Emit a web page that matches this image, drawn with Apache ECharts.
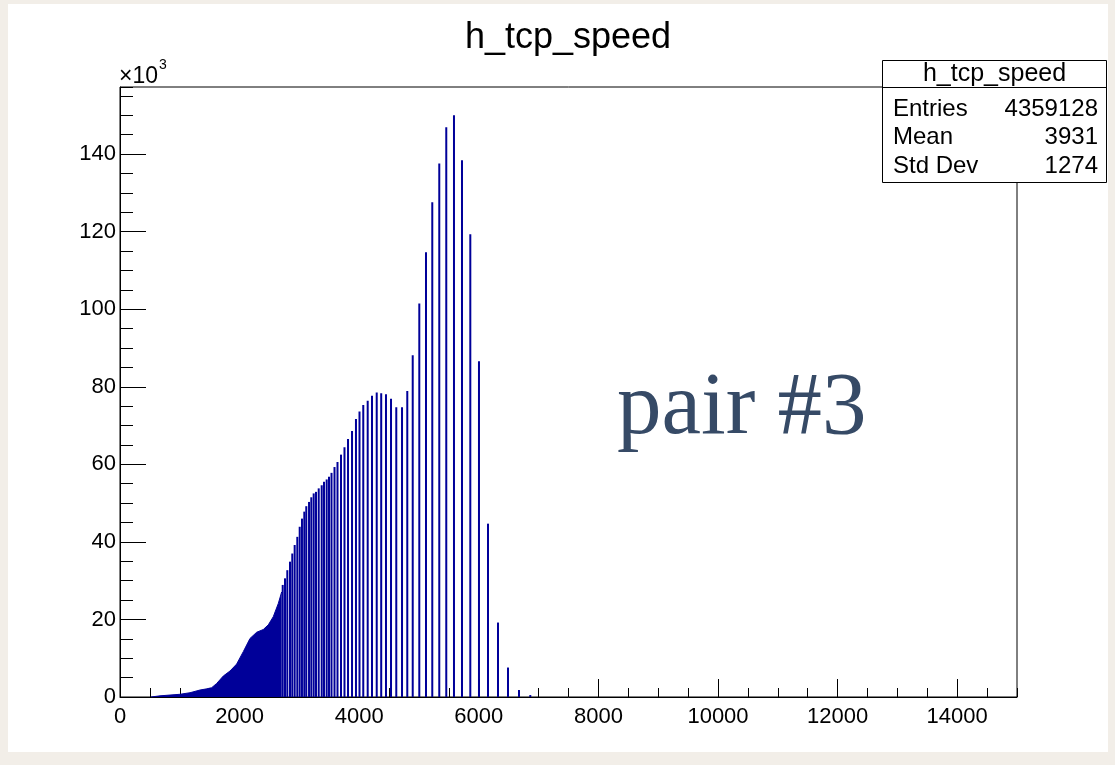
<!DOCTYPE html>
<html>
<head>
<meta charset="utf-8">
<title>h_tcp_speed</title>
<script src="https://cdn.jsdelivr.net/npm/echarts@6/dist/echarts.min.js"></script>
<style>
  html, body { margin: 0; padding: 0; background: #f2eee8; }
  #paper { position: absolute; left: 8px; top: 4px; width: 1100px; height: 748px; background: #fff; }
  #main { position: absolute; left: 0; top: 0; width: 1115px; height: 765px; }
</style>
</head>
<body>
<div id="paper"></div>
<div id="main"></div>
<script>
// dense part of the histogram (bins too close to separate), envelope
let denseX = [520, 535, 669, 836, 1003, 1171, 1338, 1450, 1533, 1617, 1727, 1839, 1951, 2062, 2174, 2286, 2396, 2480, 2563, 2647, 2704]
let denseY = [0, 0.2, 0.3, 0.5, 0.7, 1.1, 1.8, 2.1, 2.4, 3.5, 5.4, 6.7, 8.5, 11.7, 15.1, 16.7, 17.4, 18.6, 20.7, 24.1, 27.1]

// separated spikes, in units of 10^3 entries
let spikeX = [2721, 2759, 2798, 2843, 2881, 2921, 2965, 3005, 3043, 3082,
  3115, 3161, 3199, 3239, 3278, 3323, 3373, 3411, 3456, 3495,
  3537, 3587, 3637, 3696, 3754, 3813, 3880, 3946, 4005, 4068,
  4142, 4214, 4293, 4368, 4448, 4532, 4620, 4716, 4804, 4895,
  5005, 5117, 5222, 5339, 5456, 5585, 5719, 5858, 6003, 6154,
  6321, 6488, 6672, 6861]
let spikeY = [28.9, 30.6, 32.7, 34.9, 37.0, 39.2, 41.3, 43.9, 46.0, 47.8,
  49.2, 50.3, 51.5, 52.5, 52.9, 53.8, 54.6, 55.5, 56.1, 56.8,
  57.8, 59.3, 60.6, 62.5, 64.4, 66.5, 68.6, 71.7, 73.6, 75.3,
  76.4, 77.7, 78.5, 78.3, 78.1, 76.9, 74.7, 74.7, 78.9, 88.1,
  101.5, 114.7, 127.6, 137.6, 146.9, 150.0, 138.4, 119.3, 86.6, 44.7,
  19.2, 7.6, 1.8, 0.5]

let statNames = ['Entries', 'Mean', 'Std Dev']
let statValues = ['4359128', '3931', '1274']

let font = 'Liberation Sans, Arial, Helvetica, sans-serif'
let histColor = '#000099'

let denseData = denseX.map((x, i) => [x, denseY[i]])
let spikeData = spikeX.map((x, i) => [x, spikeY[i]])

// stats box
let boxLeft = 882.5, boxTop = 60.5, boxW = 224, boxH = 122
let statsGraphic = [
  {
    type: 'rect', z: 100,
    shape: { x: boxLeft, y: boxTop, width: boxW, height: boxH },
    style: { fill: '#fff', stroke: '#000', lineWidth: 1 }
  },
  {
    type: 'line', z: 101,
    shape: { x1: boxLeft, y1: 87.5, x2: boxLeft + boxW, y2: 87.5 },
    style: { stroke: '#000', lineWidth: 1 }
  },
  {
    type: 'text', z: 101, x: boxLeft + boxW / 2, y: 74,
    style: { text: 'h_tcp_speed', font: '25px ' + font, fill: '#000', textAlign: 'center', textVerticalAlign: 'middle' }
  }
]
statNames.forEach((name, i) => {
  let y = 109 + i * 28.5
  statsGraphic.push({
    type: 'text', z: 101, x: 893, y: y,
    style: { text: name, font: '24px ' + font, fill: '#000', textAlign: 'left', textVerticalAlign: 'middle' }
  })
  statsGraphic.push({
    type: 'text', z: 101, x: 1098, y: y,
    style: { text: statValues[i], font: '24px ' + font, fill: '#000', textAlign: 'right', textVerticalAlign: 'middle' }
  })
})

let axisBlack = { color: '#000', width: 1 }
let plainNumber = (v) => String(Math.round(v))

let option = {
  animation: false,
  backgroundColor: 'transparent',
  grid: {
    left: 120, top: 87, right: 98, bottom: 68,
    show: true, borderColor: '#000', borderWidth: 1, backgroundColor: '#fff'
  },
  xAxis: [
    {
      type: 'value', min: 0, max: 15000, interval: 2000, position: 'bottom',
      axisLine: { show: true, lineStyle: axisBlack },
      axisTick: { show: true, inside: true, length: 18, lineStyle: axisBlack },
      axisLabel: { color: '#000', fontFamily: font, fontSize: 22, margin: 9, showMaxLabel: false, formatter: plainNumber },
      splitLine: { show: false }
    },
    {
      // minor ticks every 500
      type: 'value', min: 0, max: 15000, interval: 500, position: 'bottom',
      axisLine: { show: false },
      axisTick: { show: true, inside: true, length: 9, lineStyle: axisBlack },
      axisLabel: { show: false },
      splitLine: { show: false }
    }
  ],
  yAxis: [
    {
      type: 'value', min: 0, max: 157.3, interval: 20, position: 'left',
      axisLine: { show: true, lineStyle: axisBlack },
      axisTick: { show: true, inside: true, length: 26, lineStyle: axisBlack },
      axisLabel: { color: '#000', fontFamily: font, fontSize: 22, margin: 4, showMaxLabel: false, formatter: plainNumber },
      splitLine: { show: false }
    },
    {
      // minor ticks every 5
      type: 'value', min: 0, max: 157.3, interval: 5, position: 'left',
      axisLine: { show: false },
      axisTick: { show: true, inside: true, length: 13, lineStyle: axisBlack },
      axisLabel: { show: false },
      splitLine: { show: false }
    }
  ],
  graphic: [
    {
      type: 'text', x: 568, y: 20,
      style: { text: 'h_tcp_speed', font: '36px ' + font, fill: '#000', textAlign: 'center', textVerticalAlign: 'top' }
    },
    {
      type: 'text', x: 119, y: 65,
      style: { text: '\u00d710', font: '23px ' + font, fill: '#000', textAlign: 'left', textVerticalAlign: 'top' }
    },
    {
      type: 'text', x: 159, y: 58,
      style: { text: '3', font: '14px ' + font, fill: '#000', textAlign: 'left', textVerticalAlign: 'top' }
    },
    {
      type: 'text', x: 617, y: 365, z: 50,
      style: { text: 'pair #3', font: '89px Liberation Serif, Times New Roman, serif', fill: '#364a66', textAlign: 'left', textVerticalAlign: 'top' }
    }
  ].concat(statsGraphic),
  series: [
    {
      name: 'dense',
      type: 'line',
      xAxisIndex: 0,
      yAxisIndex: 0,
      showSymbol: false,
      symbol: 'none',
      lineStyle: { color: histColor, width: 1 },
      areaStyle: { color: histColor, opacity: 1 },
      data: denseData
    },
    {
      name: 'spikes',
      type: 'bar',
      xAxisIndex: 0,
      yAxisIndex: 0,
      barWidth: 2,
      itemStyle: { color: histColor },
      data: spikeData
    }
  ]
}

let chart = echarts.init(document.getElementById('main'))
chart.setOption(option)
window.addEventListener('resize', () => chart.resize())
</script>
</body>
</html>
